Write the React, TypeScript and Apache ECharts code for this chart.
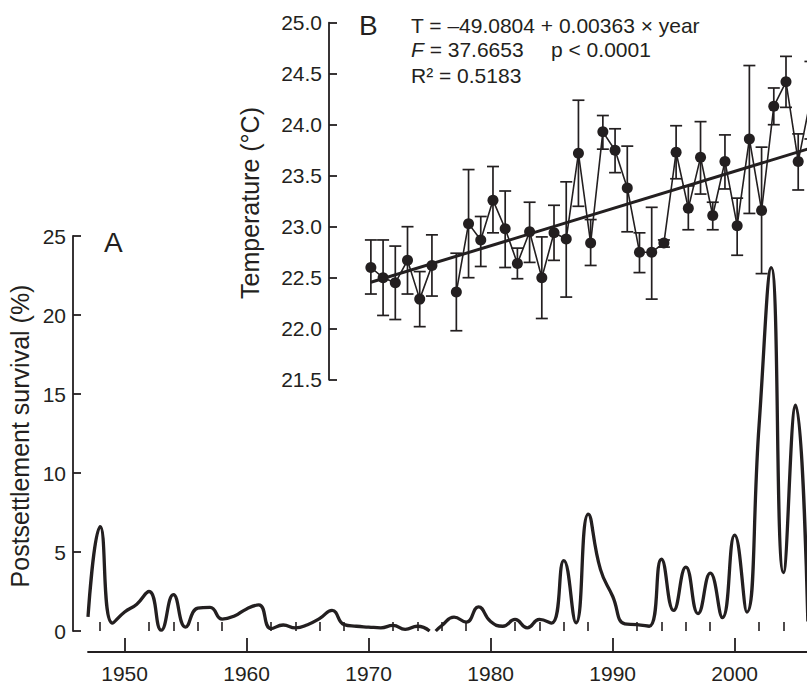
import React, { useEffect, useRef } from 'react';
import * as echarts from 'echarts';

// Panel A: post-settlement survival (%), smooth curve with a gap after 1975
const survivalYearsEarly = [1947, 1948, 1949, 1950, 1951, 1952, 1953, 1954, 1955, 1956, 1957, 1958, 1959, 1960, 1961, 1962, 1963, 1964, 1965, 1966, 1967, 1968, 1969, 1970, 1971, 1972, 1973, 1974, 1975];
const survivalValuesEarly = [0.9, 6.6, 0.5, 1.2, 1.7, 2.5, 0.05, 2.3, 0.25, 1.45, 1.5, 0.75, 0.95, 1.4, 1.65, 0.15, 0.38, 0.2, 0.4, 0.8, 1.3, 0.4, 0.3, 0.25, 0.2, 0.35, 0.1, 0.3, 0.0];
const survivalYearsLate = [1975.5, 1976, 1977, 1978, 1979, 1980, 1981, 1982, 1983, 1984, 1985, 1986, 1987, 1988, 1989, 1990, 1991, 1992, 1993, 1994, 1995, 1996, 1997, 1998, 1999, 2000, 2001, 2002, 2003, 2004, 2005, 2006];
const survivalValuesLate = [0.0, 0.35, 0.88, 0.56, 1.53, 0.6, 0.3, 0.73, 0.2, 0.73, 0.5, 4.46, 0.52, 7.4, 3.9, 2.2, 0.45, 0.4, 0.3, 4.54, 1.3, 4.04, 1.1, 3.66, 0.85, 6.07, 1.2, 13.0, 23.0, 3.7, 14.3, 0.6];

// Panel B: temperature (°C) means and error bar limits
const tempYears = [1970, 1971, 1972, 1973, 1974, 1975, 1976, 1977, 1978, 1979, 1980, 1981, 1982, 1983, 1984, 1985, 1986, 1987, 1988, 1989, 1990, 1991, 1992, 1993, 1994, 1995, 1996, 1997, 1998, 1999, 2000, 2001, 2002, 2003, 2004, 2005, 2006];
const tempMeans = [22.60, 22.50, 22.45, 22.67, 22.29, 22.62, null, 22.36, 23.03, 22.87, 23.26, 22.98, 22.64, 22.95, 22.50, 22.94, 22.88, 23.72, 22.84, 23.93, 23.75, 23.38, 22.75, 22.75, 22.84, 23.73, 23.18, 23.68, 23.11, 23.64, 23.01, 23.86, 23.16, 24.18, 24.42, 23.64, 24.24];
const tempUpper = [22.87, 22.87, 22.81, 23.00, 22.56, 22.92, null, 22.74, 23.56, 23.10, 23.59, 23.35, 22.79, 23.24, 22.90, 23.21, 23.44, 24.24, 23.07, 24.09, 23.96, 23.79, 22.94, 23.19, 22.87, 23.99, 23.40, 24.03, 23.24, 23.90, 23.28, 24.58, 23.78, 24.36, 24.67, 23.91, 24.62];
const tempLower = [22.34, 22.13, 22.09, 22.34, 22.02, 22.32, null, 21.98, 22.50, 22.61, 22.94, 22.60, 22.49, 22.65, 22.10, 22.67, 22.31, 23.20, 22.62, 23.76, 23.53, 22.95, 22.55, 22.29, 22.80, 23.47, 22.97, 23.32, 22.97, 23.37, 22.72, 23.13, 22.54, 24.00, 24.17, 23.36, 23.86];

// Regression line end points
const trendYears = [1970, 2007];
const trendValues = [22.455, 23.806];

// Tick labels
const majorYears = [1950, 1960, 1970, 1980, 1990, 2000];
const minorYears = [1948, 1952, 1954, 1956, 1958, 1962, 1964, 1966, 1968, 1972, 1974, 1976, 1978, 1982, 1984, 1986, 1988, 1992, 1994, 1996, 1998, 2002, 2004];
const survivalTicks = [0, 5, 10, 15, 20, 25];
const tempTicks = [21.5, 22.0, 22.5, 23.0, 23.5, 24.0, 24.5, 25.0];

const INK = '#231f20';
const FONT = '"Liberation Sans", Arial, Helvetica, sans-serif';

export default function App() {
  const ref = useRef<HTMLDivElement>(null);

  useEffect(() => {
    if (!ref.current) return;
    const chart = echarts.init(ref.current, undefined, { renderer: 'svg' });

    const errData = tempYears
      .map((y, i) => [y, tempUpper[i], tempLower[i]])
      .filter((d) => d[1] != null && d[2] != null);

    const textStyle = (extra: any) => ({
      fill: INK,
      fontFamily: FONT,
      ...extra,
    });

    const option: any = {
      animation: false,
      backgroundColor: '#ffffff',
      grid: [
        { left: 88, right: 0, top: 236, bottom: 49, containLabel: false },
        { left: 329, right: 0, top: 22.7, bottom: 304.3, containLabel: false },
      ],
      xAxis: [
        {
          type: 'value',
          gridIndex: 0,
          min: 1947,
          max: 2005.93,
          position: 'bottom',
          offset: 21,
          axisLine: { show: true, onZero: false, lineStyle: { color: INK, width: 1.8 } },
          axisTick: { show: true, inside: true, length: 14, customValues: majorYears, lineStyle: { color: INK, width: 1.8 } },
          axisLabel: {
            show: true,
            customValues: majorYears,
            margin: 11,
            color: INK,
            fontSize: 21,
            fontFamily: FONT,
            formatter: (v: number) => String(v),
          },
          splitLine: { show: false },
        },
        {
          type: 'value',
          gridIndex: 0,
          min: 1947,
          max: 2005.93,
          position: 'bottom',
          offset: 21,
          axisLine: { show: false },
          axisTick: { show: true, inside: true, length: 9, customValues: minorYears, lineStyle: { color: INK, width: 1.6 } },
          axisLabel: { show: false },
          splitLine: { show: false },
        },
        {
          type: 'value',
          gridIndex: 1,
          min: 1966.57,
          max: 2005.72,
          show: false,
          splitLine: { show: false },
        },
      ],
      yAxis: [
        {
          type: 'value',
          gridIndex: 0,
          min: 0,
          max: 25,
          interval: 5,
          offset: 15,
          axisLine: { show: true, lineStyle: { color: INK, width: 1.8 } },
          axisTick: { show: true, inside: true, length: 8, customValues: survivalTicks, lineStyle: { color: INK, width: 1.8 } },
          axisLabel: { color: INK, fontSize: 21, fontFamily: FONT, margin: 7, customValues: survivalTicks },
          splitLine: { show: false },
        },
        {
          type: 'value',
          gridIndex: 1,
          min: 21.5,
          max: 25.0,
          interval: 0.5,
          axisLine: { show: true, lineStyle: { color: INK, width: 1.8 } },
          axisTick: { show: true, inside: true, length: 8, customValues: tempTicks, lineStyle: { color: INK, width: 1.8 } },
          axisLabel: {
            color: INK,
            fontSize: 21,
            fontFamily: FONT,
            margin: 7,
            customValues: tempTicks,
            formatter: (v: number) => v.toFixed(1),
          },
          splitLine: { show: false },
        },
      ],
      series: [
        {
          type: 'line',
          xAxisIndex: 0,
          yAxisIndex: 0,
          data: survivalYearsEarly.map((y, i) => [y, survivalValuesEarly[i]]),
          smooth: true,
          showSymbol: false,
          symbol: 'none',
          lineStyle: { color: INK, width: 3.3 },
          clip: true,
        },
        {
          type: 'line',
          xAxisIndex: 0,
          yAxisIndex: 0,
          data: survivalYearsLate.map((y, i) => [y, survivalValuesLate[i]]),
          smooth: true,
          showSymbol: false,
          symbol: 'none',
          lineStyle: { color: INK, width: 3.3 },
          clip: true,
        },
        {
          type: 'custom',
          xAxisIndex: 2,
          yAxisIndex: 1,
          data: errData,
          encode: { x: 0, y: [1, 2] },
          renderItem: (params: any, api: any) => {
            const x = api.value(0);
            const top = api.coord([x, api.value(1)]);
            const bot = api.coord([x, api.value(2)]);
            const w = 6;
            const st = { stroke: INK, lineWidth: 1.7 };
            return {
              type: 'group',
              children: [
                { type: 'line', shape: { x1: top[0], y1: top[1], x2: bot[0], y2: bot[1] }, style: st },
                { type: 'line', shape: { x1: top[0] - w, y1: top[1], x2: top[0] + w, y2: top[1] }, style: st },
                { type: 'line', shape: { x1: bot[0] - w, y1: bot[1], x2: bot[0] + w, y2: bot[1] }, style: st },
              ],
            };
          },
          z: 2,
        },
        {
          type: 'line',
          xAxisIndex: 2,
          yAxisIndex: 1,
          data: tempYears.map((y, i) => [y, tempMeans[i]]),
          connectNulls: false,
          symbol: 'circle',
          symbolSize: 11,
          showSymbol: true,
          itemStyle: { color: INK },
          lineStyle: { color: INK, width: 1.6 },
          clip: true,
          z: 3,
        },
        {
          type: 'line',
          xAxisIndex: 2,
          yAxisIndex: 1,
          data: trendYears.map((y, i) => [y, trendValues[i]]),
          symbol: 'none',
          showSymbol: false,
          lineStyle: { color: INK, width: 3 },
          clip: true,
          z: 4,
        },
      ],
      graphic: [
        {
          type: 'text',
          x: 19.5,
          y: 436,
          rotation: Math.PI / 2,
          style: textStyle({ text: 'Postsettlement survival (%)', fontSize: 25, align: 'center', verticalAlign: 'middle', textAlign: 'center', textVerticalAlign: 'middle' }),
        },
        {
          type: 'text',
          x: 250,
          y: 203,
          rotation: Math.PI / 2,
          style: textStyle({ text: 'Temperature (°C)', fontSize: 25, align: 'center', verticalAlign: 'middle', textAlign: 'center', textVerticalAlign: 'middle' }),
        },
        {
          type: 'text',
          x: 104,
          y: 242,
          style: textStyle({ text: 'A', fontSize: 28, align: 'left', verticalAlign: 'middle', textAlign: 'left', textVerticalAlign: 'middle' }),
        },
        {
          type: 'text',
          x: 359,
          y: 25,
          style: textStyle({ text: 'B', fontSize: 28, align: 'left', verticalAlign: 'middle', textAlign: 'left', textVerticalAlign: 'middle' }),
        },
        {
          type: 'text',
          x: 411,
          y: 25,
          style: textStyle({ text: 'T = –49.0804 + 0.00363 × year', fontSize: 21, align: 'left', verticalAlign: 'middle', textAlign: 'left', textVerticalAlign: 'middle' }),
        },
        {
          type: 'text',
          x: 411,
          y: 49.5,
          style: textStyle({
            text: '{it|F} = 37.6653',
            fontSize: 21,
            align: 'left',
            verticalAlign: 'middle',
            textAlign: 'left',
            textVerticalAlign: 'middle',
            rich: { it: { fontStyle: 'italic', fontSize: 21, fontFamily: FONT, fill: INK } },
          }),
        },
        {
          type: 'text',
          x: 551,
          y: 49.5,
          style: textStyle({ text: 'p < 0.0001', fontSize: 21, align: 'left', verticalAlign: 'middle', textAlign: 'left', textVerticalAlign: 'middle' }),
        },
        {
          type: 'text',
          x: 411,
          y: 75,
          style: textStyle({ text: 'R² = 0.5183', fontSize: 21, align: 'left', verticalAlign: 'middle', textAlign: 'left', textVerticalAlign: 'middle' }),
        },
      ],
    };

    chart.setOption(option);
    return () => chart.dispose();
  }, []);

  return (
    <div
      ref={ref}
      style={{ position: 'fixed', left: 0, top: 0, width: 807, height: 684, background: '#fff' }}
    />
  );
}
